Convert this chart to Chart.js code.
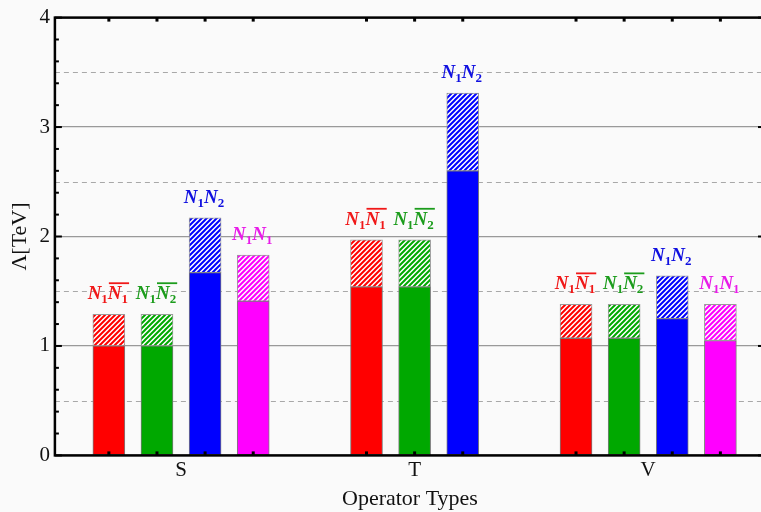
<!DOCTYPE html>
<html><head><meta charset="utf-8">
<script src="https://cdn.jsdelivr.net/npm/chart.js@4"></script>
<style>
html,body{margin:0;padding:0;background:#fafafa;overflow:hidden;width:761px;height:512px}
canvas{display:block}
</style></head>
<body><canvas id="c" width="770" height="512" style="width:770px;height:512px"></canvas>
<script>
// ---- data ----
const categories = ['S', 'T', 'V'];
const seriesNames = ['N1N1bar', 'N1N2bar', 'N1N2', 'N1N1'];
const seriesColors = ['#ff0000', '#00a800', '#0000ff', '#ff00ff'];
const labelColors = ['#f01818', '#1c9c1c', '#1010e0', '#e81ce8'];
// lower (solid) and upper (hatched top) bounds of Λ [TeV]
const lowerN1N1bar = [1.00, 1.54, 1.07];
const upperN1N1bar = [1.29, 1.97, 1.38];
const lowerN1N2bar = [1.00, 1.54, 1.07];
const upperN1N2bar = [1.29, 1.97, 1.38];
const lowerN1N2 = [1.67, 2.60, 1.25];
const upperN1N2 = [2.17, 3.31, 1.64];
const lowerN1N1 = [1.41, null, 1.05];
const upperN1N1 = [1.83, null, 1.38];
const yTicks = [0, 1, 2, 3, 4];
// label parts: [main letter, subscript, overline?]
const seriesLabelParts = [
  [['N', '1', false], ['N', '1', true]],
  [['N', '1', false], ['N', '2', true]],
  [['N', '1', false], ['N', '2', false]],
  [['N', '1', false], ['N', '1', false]]
];

const lowers = [lowerN1N1bar, lowerN1N2bar, lowerN1N2, lowerN1N1];
const uppers = [upperN1N1bar, upperN1N2bar, upperN1N2, upperN1N1];

// ---- layout of bars within groups ----
const barStep = 0.206;
function xPos(seriesIdx, catIdx) {
  const present = [];
  for (let s = 0; s < lowers.length; s++) if (lowers[s][catIdx] != null) present.push(s);
  const k = present.indexOf(seriesIdx);
  const n = present.length;
  return (catIdx + 1) + (k - (n - 1) / 2) * barStep;
}

function hatch(color) {
  const T = 5;
  const c = document.createElement('canvas');
  c.width = T; c.height = T;
  const g = c.getContext('2d');
  g.fillStyle = '#ffffff'; g.fillRect(0, 0, T, T);
  g.strokeStyle = color; g.lineWidth = 2.0;
  g.beginPath();
  g.moveTo(-1, T + 1); g.lineTo(T + 1, -1);
  g.moveTo(-2, 2); g.lineTo(2, -2);
  g.moveTo(T - 2, T + 2); g.lineTo(T + 2, T - 2);
  g.stroke();
  return g.createPattern(c, 'repeat');
}

const datasets = [];
seriesNames.forEach((name, s) => {
  const solid = [], hat = [];
  categories.forEach((c, i) => {
    if (lowers[s][i] == null) return;
    solid.push({x: xPos(s, i), y: [0, lowers[s][i]]});
    hat.push({x: xPos(s, i), y: [lowers[s][i], uppers[s][i]]});
  });
  datasets.push({label: name + ' solid', data: solid, backgroundColor: seriesColors[s],
    borderColor: '#7a7a7a', borderWidth: 1, borderSkipped: false, barThickness: 32, grouped: false, seriesIdx: s, kind: 'solid'});
  datasets.push({label: name + ' hatch', data: hat, backgroundColor: hatch(seriesColors[s]),
    borderColor: '#9a9a9a', borderWidth: 1, borderSkipped: false, barThickness: 32, grouped: false, seriesIdx: s, kind: 'hatch'});
});

function drawLabel(ctx, parts, cx, baseY, color) {
  const big = 'bold italic 19px "Liberation Serif"';
  const small = 'bold 13px "Liberation Serif"';
  let w = 0;
  const ms = parts.map(p => {
    ctx.font = big; const a = ctx.measureText(p[0]).width;
    ctx.font = small; const b = ctx.measureText(p[1]).width;
    w += a + b; return [a, b];
  });
  let x = cx - w / 2 - 1;
  ctx.fillStyle = color; ctx.strokeStyle = color; ctx.textBaseline = 'alphabetic'; ctx.textAlign = 'left';
  parts.forEach((p, i) => {
    const [a, b] = ms[i];
    ctx.font = big; ctx.fillText(p[0], x, baseY);
    if (p[2]) {
      ctx.lineWidth = 1.8;
      ctx.beginPath(); ctx.moveTo(x + 1, baseY - 16); ctx.lineTo(x + a + b + 1, baseY - 16); ctx.stroke();
    }
    x += a;
    ctx.font = small; ctx.fillText(p[1], x, baseY + 4);
    x += b;
  });
}

const decor = {
  id: 'decor',
  beforeDatasetsDraw(chart) {
    const {ctx, chartArea: a, scales: {y}} = chart;
    ctx.save();
    ctx.strokeStyle = '#a8a8a8'; ctx.lineWidth = 1; ctx.setLineDash([5, 4]);
    for (let i = 0; i < yTicks.length - 1; i++) {
      const v = (yTicks[i] + yTicks[i + 1]) / 2;
      const py = Math.round(y.getPixelForValue(v)) + 0.5;
      ctx.beginPath(); ctx.moveTo(a.left, py); ctx.lineTo(a.right, py); ctx.stroke();
    }
    ctx.restore();
  },
  afterDatasetsDraw(chart) {
    const {ctx, chartArea: a, scales: {y}} = chart;
    ctx.save();
    chart.data.datasets.forEach((ds, di) => {
      if (ds.kind !== 'hatch') return;
      const meta = chart.getDatasetMeta(di);
      ds.data.forEach((pt, j) => {
        const el = meta.data[j];
        const top = y.getPixelForValue(pt.y[1]);
        drawLabel(ctx, seriesLabelParts[ds.seriesIdx], el.x, top - 15, labelColors[ds.seriesIdx]);
      });
    });
    ctx.strokeStyle = '#000'; ctx.lineWidth = 2.5;
    ctx.strokeRect(a.left, a.top, a.right - a.left, a.bottom - a.top);
    ctx.lineWidth = 2;
    for (let k = 0; k <= 20; k++) {
      const v = k * 0.2;
      const py = y.getPixelForValue(v);
      const len = (k % 5 === 0) ? 7 : 4;
      ctx.beginPath(); ctx.moveTo(a.left, py); ctx.lineTo(a.left + len, py); ctx.stroke();
      ctx.beginPath(); ctx.moveTo(a.right, py); ctx.lineTo(a.right - len, py); ctx.stroke();
    }
    ctx.lineWidth = 3;
    chart.data.datasets.forEach((ds, di) => {
      if (ds.kind !== 'solid') return;
      chart.getDatasetMeta(di).data.forEach(el => {
        ctx.beginPath(); ctx.moveTo(el.x, a.bottom); ctx.lineTo(el.x, a.bottom - 4); ctx.stroke();
        ctx.beginPath(); ctx.moveTo(el.x, a.top); ctx.lineTo(el.x, a.top + 4); ctx.stroke();
      });
    });
    ctx.restore();
  }
};

new Chart(document.getElementById('c'), {
  type: 'bar',
  data: {datasets},
  options: {
    responsive: false, animation: false,
    layout: {padding: {left: 4, right: 5, top: 16, bottom: 0}},
    plugins: {legend: {display: false}, tooltip: {enabled: false}},
    scales: {
      x: {
        type: 'linear', min: 0.46, max: 3.5, offset: false,
        grid: {display: false, drawTicks: false}, border: {display: false},
        afterBuildTicks: s => { s.ticks = categories.map((c, i) => ({value: i + 1})); },
        ticks: {callback: v => categories[v - 1] ?? '', autoSkip: false, maxRotation: 0,
          font: {family: 'Liberation Serif', size: 21}, color: '#111', padding: 2},
        title: {display: true, text: 'Operator Types', font: {family: 'Liberation Serif', size: 22},
          color: '#111', padding: {top: 1, bottom: 0}}
      },
      y: {
        min: 0, max: 4,
        afterBuildTicks: s => { s.ticks = yTicks.map(v => ({value: v})); },
        ticks: {font: {family: 'Liberation Serif', size: 21}, color: '#111', padding: 5},
        grid: {color: '#999999', lineWidth: 1.3, drawTicks: false}, border: {display: false},
        title: {display: true, text: 'Λ[TeV]', font: {family: 'Liberation Serif', size: 22},
          color: '#111', padding: {top: 3, bottom: 1}}
      }
    }
  },
  plugins: [decor]
});
</script>
</body></html>
